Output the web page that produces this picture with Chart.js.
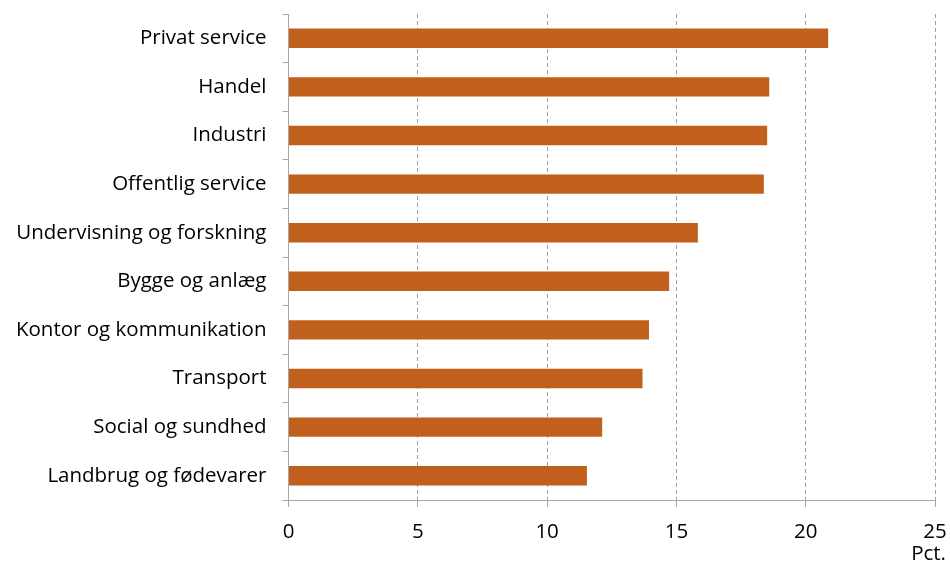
<!DOCTYPE html>
<html>
<head>
<meta charset="utf-8">
<script src="https://cdn.jsdelivr.net/npm/chart.js@4/dist/chart.umd.min.js"></script>
<style>
  html, body { margin: 0; padding: 0; background: #fff; }
  #wrap { width: 950px; height: 569px; }
</style>
</head>
<body>
<div id="wrap"><canvas id="barChart" width="950" height="569"></canvas></div>
<script>
// Sektorer og andel (pct.)
const categories = [
  'Privat service', 'Handel', 'Industri', 'Offentlig service',
  'Undervisning og forskning', 'Bygge og anlæg', 'Kontor og kommunikation',
  'Transport', 'Social og sundhed', 'Landbrug og fødevarer'
];
const values = [20.87, 18.59, 18.51, 18.38, 15.83, 14.72, 13.94, 13.69, 12.13, 11.54];
const xTicks = [0, 5, 10, 15, 20, 25];
const unitLabel = 'Pct.';

const FONT = "'Open Sans', sans-serif";
const FONT_SIZE = 20.5;
const AXIS_GREY = '#A6A6A6';

// draws the "Pct." unit text under the right end of the x axis
const unitPlugin = {
  id: 'unitLabel',
  afterDraw(chart) {
    const c = chart.ctx;
    c.save();
    c.font = FONT_SIZE + 'px ' + FONT;
    c.fillStyle = '#000';
    c.textAlign = 'right';
    c.textBaseline = 'alphabetic';
    c.fillText(unitLabel, chart.width - 4, 560);
    c.restore();
  }
};

const ctx = document.getElementById('barChart').getContext('2d');
new Chart(ctx, {
  type: 'bar',
  data: {
    labels: categories,
    datasets: [{
      data: values,
      backgroundColor: '#C0601C',
      borderWidth: 0,
      barPercentage: 0.4,
      categoryPercentage: 1
    }]
  },
  options: {
    indexAxis: 'y',
    responsive: false,
    animation: false,
    layout: { padding: { top: 14, right: 15, bottom: 0, left: 0 } },
    plugins: {
      legend: { display: false },
      tooltip: { enabled: false }
    },
    scales: {
      x: {
        min: 0,
        max: 25,
        afterBuildTicks(scale) { scale.ticks = xTicks.map(v => ({ value: v })); },
        afterFit(scale) {
          scale.height = 69;
          scale.paddingLeft = 0;
          scale.paddingRight = 0;
        },
        border: { color: AXIS_GREY, width: 1, dash: [4, 3] },
        grid: {
          color: '#A0A0A0',
          tickBorderDash: [],
          tickColor: AXIS_GREY,
          tickLength: 7
        },
        ticks: {
          color: '#000',
          padding: 13,
          font: { family: FONT, size: FONT_SIZE }
        }
      },
      y: {
        afterFit(scale) {
          scale.width = 288.5;
          scale.paddingTop = 0;
          scale.paddingBottom = 0;
        },
        border: { color: AXIS_GREY, width: 1 },
        grid: {
          drawOnChartArea: false,
          offset: true,
          color: AXIS_GREY,
          tickLength: 6
        },
        ticks: {
          color: '#000',
          padding: 16,
          font: { family: FONT, size: FONT_SIZE }
        }
      }
    }
  },
  plugins: [unitPlugin]
});
</script>
</body>
</html>
